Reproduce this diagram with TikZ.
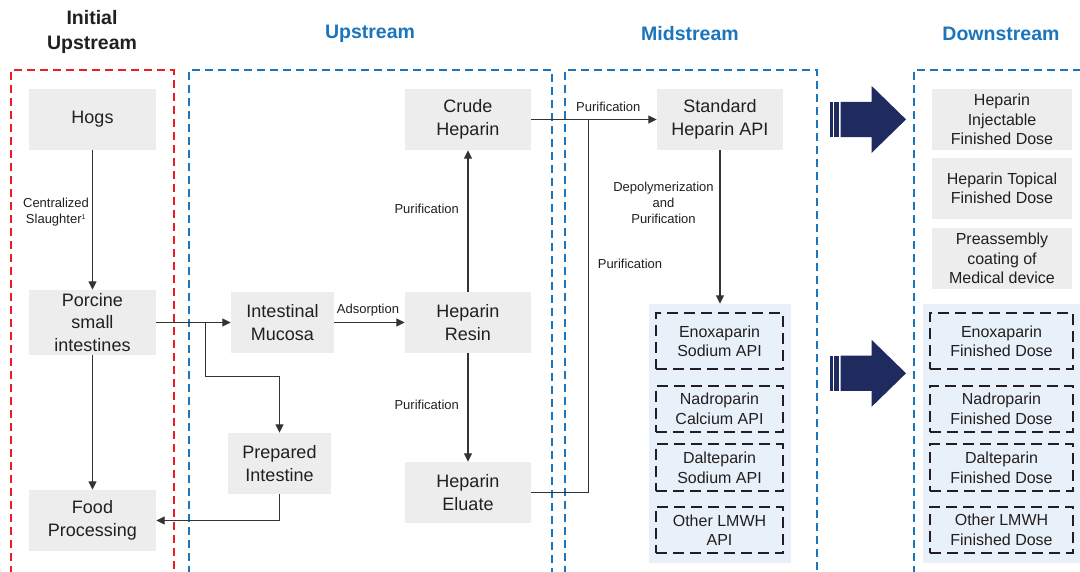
\documentclass[tikz,border=0pt]{standalone}
\usepackage{fontspec}
\setmainfont{Liberation Sans}
\usetikzlibrary{arrows.meta}
\definecolor{boxgray}{HTML}{ECEDEC}
\definecolor{lblue}{HTML}{E8F1F9}
\definecolor{colblue}{HTML}{1B75BC}
\definecolor{colred}{HTML}{ED1C24}
\definecolor{navy}{HTML}{1F2A5E}
\definecolor{txt}{HTML}{231F20}
\definecolor{linec}{HTML}{333333}
\tikzset{
  box/.style={fill=boxgray, inner sep=0pt, align=center, text=txt,
    font=\fontsize{18}{22.5}\selectfont},
  dbox/.style={fill=boxgray, inner sep=0pt, align=center, text=txt,
    font=\fontsize{16}{19.3}\selectfont},
  lmbox/.style={draw=txt, line width=1.8pt, dash pattern=on 11pt off 6pt,
    inner sep=0pt, align=center, text=txt,
    font=\fontsize{16}{19.5}\selectfont},
  container/.style={fill=lblue, inner sep=0pt},
  lbl/.style={inner sep=0pt, align=center, text=txt,
    font=\fontsize{13}{16}\selectfont},
  hdr/.style={inner sep=0pt, align=center,
    font=\bfseries\fontsize{19.5}{25}\selectfont},
  conn/.style={draw=linec, line width=1.3pt,
    -{Triangle[length=8.5pt,width=8pt]}},
  plain/.style={draw=linec, line width=1.3pt},
  redcol/.style={draw=colred, line width=2pt, dash pattern=on 8pt off 5pt},
  bluecol/.style={draw=colblue, line width=2pt, dash pattern=on 8pt off 5pt},
  bigarrow/.style={fill=navy}
}
\begin{document}
\begin{tikzpicture}[x=1pt,y=-1pt]
\clip (0,0) rectangle (1080,571);
\fill[white] (0,0) rectangle (1080,571);

% headers
\node[hdr, text=txt] (h0) at (92,31.5) {Initial\\Upstream};
\node[hdr, text=colblue] (h1) at (370,33.5) {Upstream};
\node[hdr, text=colblue] (h2) at (690,33.5) {Midstream};
\node[hdr, text=colblue] (h3) at (1001,33.5) {Downstream};

% column frames
\draw[redcol] (11,600) -- (11,70) -- (173.5,70) -- (173.5,600);
\draw[bluecol] (189,600) -- (189,70) -- (552,70) -- (552,600);
\draw[bluecol] (565,600) -- (565,70) -- (817,70) -- (817,600);
\draw[bluecol] (914,600) -- (914,70) -- (1095,70);

% initial upstream
\node[box, minimum width=127, minimum height=61] (hogs) at (92.5,119.5) {Hogs};
\node[box, minimum width=127, minimum height=65] (porcine) at (92.5,322.5) {Porcine\\small\\intestines};
\node[box, minimum width=127, minimum height=61] (food) at (92.5,520.5) {Food\\Processing};

% upstream
\node[box, minimum width=103, minimum height=61] (mucosa) at (282.5,322.5) {Intestinal\\Mucosa};
\node[box, minimum width=103, minimum height=61] (prep) at (279.5,463.5) {Prepared\\Intestine};
\node[box, minimum width=126, minimum height=61] (crude) at (468,119.5) {Crude\\Heparin};
\node[box, minimum width=126, minimum height=61] (resin) at (468,322.5) {Heparin\\Resin};
\node[box, minimum width=126, minimum height=61] (eluate) at (468,492.5) {Heparin\\Eluate};

% midstream
\node[box, minimum width=126, minimum height=61] (std) at (720,119.5) {Standard\\Heparin API};
\node[container, minimum width=142, minimum height=259] (lmwh) at (720,433.5) {};
\node[lmbox, minimum width=127.5, minimum height=56] (eno) at (719.5,341.3) {Enoxaparin\\Sodium API};
\node[lmbox, minimum width=127.5, minimum height=46] (nad) at (719.5,408.7) {Nadroparin\\Calcium API};
\node[lmbox, minimum width=127.5, minimum height=46.7] (dal) at (719.5,467.7) {Dalteparin\\Sodium API};
\node[lmbox, minimum width=127.5, minimum height=46.7] (oth) at (719.5,530) {Other LMWH\\API};

% downstream
\node[dbox, minimum width=140, minimum height=61] (inj) at (1002,119.5) {Heparin\\Injectable\\Finished Dose};
\node[dbox, minimum width=140, minimum height=60.4] (top) at (1002,188.5) {Heparin Topical\\Finished Dose};
\node[dbox, minimum width=140, minimum height=61] (pre) at (1002,258.5) {Preassembly\\coating of\\Medical device};
\node[container, minimum width=170, minimum height=259, anchor=west] (ldown) at (922.7,433.5) {};
\node[lmbox, minimum width=143, minimum height=56] (deno) at (1001.5,341.3) {Enoxaparin\\Finished Dose};
\node[lmbox, minimum width=143, minimum height=46] (dnad) at (1001.5,408.7) {Nadroparin\\Finished Dose};
\node[lmbox, minimum width=143, minimum height=46.7] (ddal) at (1001.5,467.7) {Dalteparin\\Finished Dose};
\node[lmbox, minimum width=143, minimum height=46.7] (doth) at (1001.5,530) {Other LMWH\\Finished Dose};

% big arrows
\foreach \c in {119.4,373.3}{
  \fill[bigarrow] (840.5,\c-17.6) -- (871.5,\c-17.6) -- (871.5,\c-33.6) -- (906,\c)
     -- (871.5,\c+33.6) -- (871.5,\c+17.6) -- (840.5,\c+17.6) -- cycle;
  \fill[bigarrow] (829.5,\c-17.6) rectangle (832.8,\c+17.6);
  \fill[bigarrow] (834.3,\c-17.6) rectangle (838.6,\c+17.6);
}

% connectors
\draw[conn] (hogs) -- (porcine);
\draw[conn] (porcine) -- (food);
\draw[conn] (porcine.east) -- (porcine.east -| mucosa.west);
\coordinate (br) at (205.7,322.5);
\coordinate (bend) at (279.5,376.3);
\draw[plain] (br) |- (bend);
\draw[conn] (bend) -- (prep.north);
\draw[conn] (prep.south) |- (food.east);
\draw[conn] (mucosa.east) -- (resin.west);
\draw[conn] (resin.north) -- (crude.south);
\draw[conn] (resin.south) -- (eluate.north);
\draw[conn] (crude.east) -- (std.west);
\coordinate (join) at (588.3,119.5);
\draw[plain] (eluate.east) -| (join);
\draw[conn] (std.south) -- (lmwh.north);

% labels
\node[lbl] (l1) at (56,212) {Centralized\\Slaughter\textsuperscript{\fontsize{7}{7}\selectfont 1}};
\node[lbl] (l2) at (368,310.5) {Adsorption};
\node[lbl] (l3) at (426.7,209.3) {Purification};
\node[lbl] (l4) at (426.7,405.3) {Purification};
\node[lbl] (l5) at (608.3,107) {Purification};
\node[lbl] (l6) at (630,263.7) {Purification};
\node[lbl] (l7) at (663.5,203) {Depolymerization\\and\\Purification};
\end{tikzpicture}
\end{document}
